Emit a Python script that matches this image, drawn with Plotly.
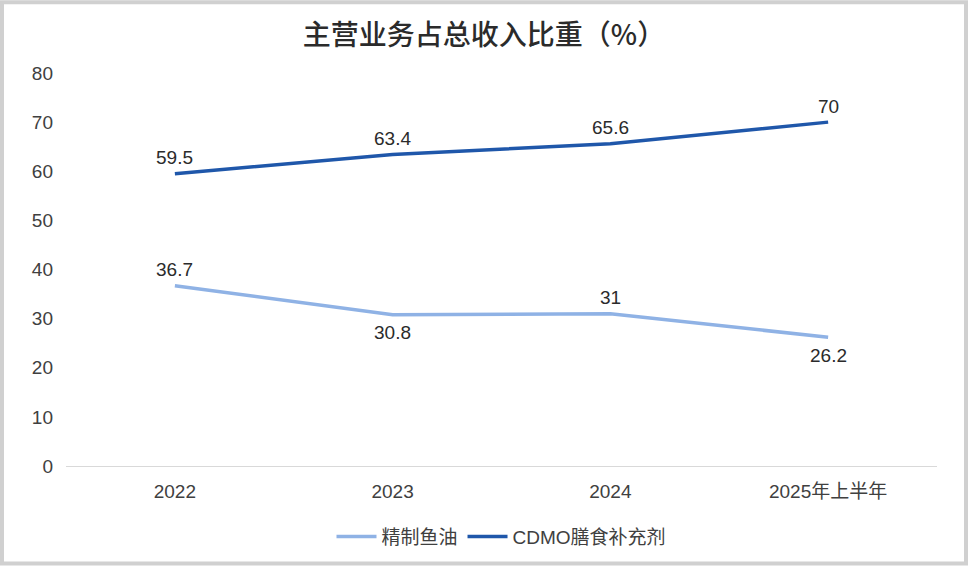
import plotly.graph_objects as go

categories = ["2022", "2023", "2024", "2025年上半年"]
fish_oil = [36.7, 30.8, 31, 26.2]
cdmo = [59.5, 63.4, 65.6, 70]
fish_pos = ["top", "bottom", "top", "bottom"]
cdmo_pos = ["top", "top", "top", "top"]
y_ticks = [0, 10, 20, 30, 40, 50, 60, 70, 80]

FONT = "Noto Sans CJK SC, Arial, sans-serif"
NUMFONT = "Arial, Liberation Sans, Noto Sans CJK SC, sans-serif"
LIGHT = "#8FB2E5"
DARK = "#1F57AA"

fig = go.Figure()
fig.add_trace(go.Scatter(x=categories, y=fish_oil, mode="lines", name="精制鱼油",
                         line=dict(color=LIGHT, width=3.5)))
fig.add_trace(go.Scatter(x=categories, y=cdmo, mode="lines", name="CDMO膳食补充剂",
                         line=dict(color=DARK, width=3.5)))

annotations = []
for series, pos in ((fish_oil, fish_pos), (cdmo, cdmo_pos)):
    for i, (v, p) in enumerate(zip(series, pos)):
        annotations.append(dict(x=i, y=v, xref="x", yref="y", text=f"{v:g}", showarrow=False,
                                yshift=16 if p == "top" else -18,
                                font=dict(family=NUMFONT, size=19, color="#2b2b2b")))

fig.update_layout(
    width=968, height=568,
    margin=dict(l=66, r=31, t=73, b=100),
    paper_bgcolor="white", plot_bgcolor="white",
    title=dict(text="主营业务占总收入比重（%）", x=0.5, xanchor="center", y=1 - 35/568, yanchor="middle",
               font=dict(family=FONT, size=28, color="#2b2b2b", weight=500)),
    showlegend=True,
    legend=dict(orientation="h", x=0.5, xanchor="center", y=-71/395, yanchor="middle",
                font=dict(family=NUMFONT, size=19, color="#404040"), itemwidth=40, tracegroupgap=0),
    annotations=annotations,
    xaxis=dict(type="category", range=[-0.5, len(categories) - 0.5], showgrid=False, showline=True,
               linecolor="#d9d9d9", linewidth=1, ticks="",
               tickfont=dict(family=NUMFONT, size=19, color="#404040"),
               ticklabelstandoff=8),
    yaxis=dict(range=[0, 80], tickvals=y_ticks, showgrid=False, zeroline=False, ticks="",
               tickfont=dict(family=NUMFONT, size=19, color="#404040"),
               ticklabelstandoff=12),
    shapes=[dict(type="rect", xref="paper", yref="paper",
                 x0=-66/871 + 2/871, x1=1 + 31/871 - 2/871, y0=-100/395 + 2/395, y1=1 + 73/395 - 2/395,
                 line=dict(color="#d0d0d0", width=4), layer="below")],
)

fig.write_html("out.html", config={"displayModeBar": False},
               post_script="document.body.style.margin='0';document.body.style.overflow='hidden';")
